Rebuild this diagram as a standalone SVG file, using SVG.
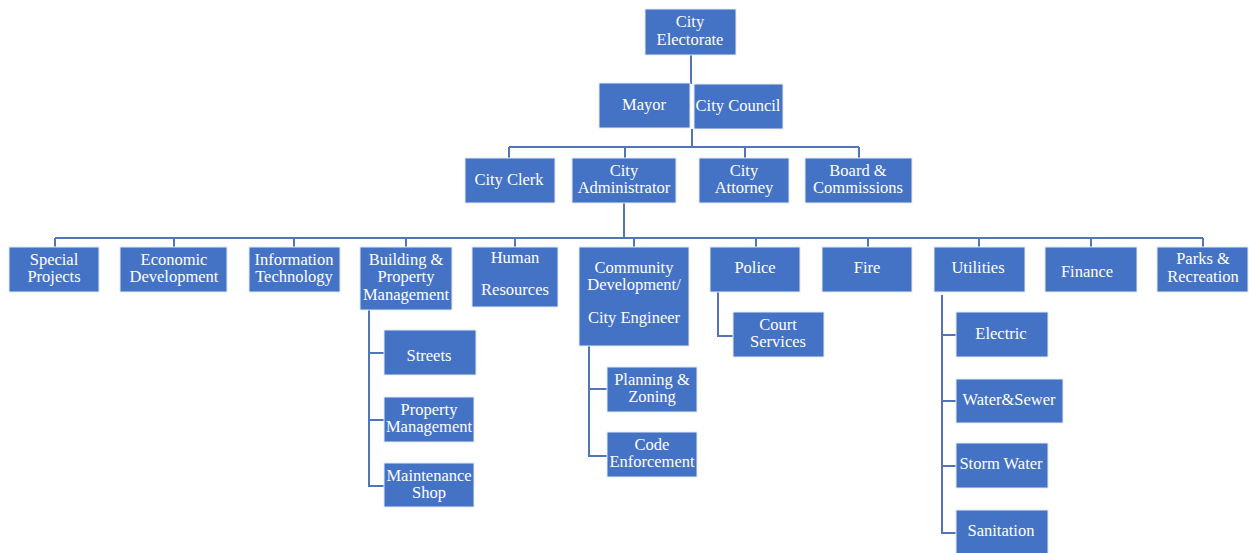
<svg xmlns="http://www.w3.org/2000/svg" width="1249" height="553" viewBox="0 0 1249 553">
<style>
.b{fill:#4472C4;stroke:#e3e9f5;stroke-width:1}
.t{font-family:'Liberation Serif',serif;font-size:16.5px;fill:#fff;text-anchor:middle}
.c{fill:none;stroke:#5274b8;stroke-width:2}
</style>
<rect width="1249" height="553" fill="#fff"/>
<g id="connectors" class="c">
<path d="M691 55V84"/>
<path d="M692 129V147M509 147H859M509 147V158M625 147V158M745 147V158M859 147V158"/>
<path d="M624 203V238M55 238H1203"/>
<path d="M55 238V247M174 238V247M294 238V247M406 238V247M515 238V247M634 238V247M756 238V247M868 238V247M979 238V247M1091 238V247M1203 238V247"/>
<path d="M369 310V486H384M369 353H384M369 420H384"/>
<path d="M589 346V456H607M589 389H607"/>
<path d="M718 292V336H733"/>
<path d="M942 295V533H956M942 335H956M942 401H956M942 466H956"/>
</g>
<g id="n-electorate"><rect class="b" x="645" y="9" width="91" height="46"/><text class="t" x="690" y="27">City</text><text class="t" x="690" y="45">Electorate</text></g>
<g id="n-mayor"><rect class="b" x="599" y="83" width="91" height="45"/><text class="t" x="644" y="110">Mayor</text></g>
<g id="n-council"><rect class="b" x="694" y="84" width="89" height="45"/><text class="t" x="738" y="111">City Council</text></g>
<g id="n-clerk"><rect class="b" x="465" y="158" width="90" height="45"/><text class="t" x="509" y="185">City Clerk</text></g>
<g id="n-admin"><rect class="b" x="572" y="158" width="104" height="45"/><text class="t" x="624" y="176">City</text><text class="t" x="624" y="193">Administrator</text></g>
<g id="n-attorney"><rect class="b" x="699" y="158" width="90" height="45"/><text class="t" x="744" y="176">City</text><text class="t" x="744" y="193">Attorney</text></g>
<g id="n-board"><rect class="b" x="805" y="158" width="107" height="45"/><text class="t" x="858" y="176">Board &amp;</text><text class="t" x="858" y="193">Commissions</text></g>
<g id="n-special"><rect class="b" x="9" y="247" width="90" height="45"/><text class="t" x="54" y="265">Special</text><text class="t" x="54" y="282">Projects</text></g>
<g id="n-econ"><rect class="b" x="120" y="247" width="107" height="45"/><text class="t" x="174" y="265">Economic</text><text class="t" x="174" y="282">Development</text></g>
<g id="n-it"><rect class="b" x="249" y="247" width="91" height="45"/><text class="t" x="294" y="265">Information</text><text class="t" x="294" y="282">Technology</text></g>
<g id="n-building"><rect class="b" x="360" y="247" width="92" height="63"/><text class="t" x="406" y="265">Building &amp;</text><text class="t" x="406" y="282">Property</text><text class="t" x="406" y="300">Management</text></g>
<g id="n-hr"><rect class="b" x="472" y="247" width="86" height="60"/><text class="t" x="515" y="263">Human</text><text class="t" x="515" y="295">Resources</text></g>
<g id="n-community"><rect class="b" x="579" y="247" width="110" height="99"/><text class="t" x="634" y="273">Community</text><text class="t" x="634" y="290">Development/</text><text class="t" x="634" y="323">City Engineer</text></g>
<g id="n-police"><rect class="b" x="710" y="247" width="90" height="45"/><text class="t" x="755" y="273">Police</text></g>
<g id="n-fire"><rect class="b" x="822" y="247" width="90" height="45"/><text class="t" x="867" y="273">Fire</text></g>
<g id="n-utilities"><rect class="b" x="934" y="247" width="91" height="45"/><text class="t" x="978" y="273">Utilities</text></g>
<g id="n-finance"><rect class="b" x="1045" y="247" width="92" height="45"/><text class="t" x="1087" y="277">Finance</text></g>
<g id="n-parks"><rect class="b" x="1157" y="247" width="91" height="45"/><text class="t" x="1203" y="264">Parks &amp;</text><text class="t" x="1203" y="282">Recreation</text></g>
<g id="n-streets"><rect class="b" x="384" y="330" width="92" height="45"/><text class="t" x="429" y="361">Streets</text></g>
<g id="n-propmgmt"><rect class="b" x="384" y="397" width="90" height="45"/><text class="t" x="429" y="415">Property</text><text class="t" x="429" y="432">Management</text></g>
<g id="n-maint"><rect class="b" x="384" y="463" width="90" height="44"/><text class="t" x="429" y="481">Maintenance</text><text class="t" x="429" y="498">Shop</text></g>
<g id="n-planning"><rect class="b" x="607" y="367" width="90" height="45"/><text class="t" x="652" y="385">Planning &amp;</text><text class="t" x="652" y="402">Zoning</text></g>
<g id="n-code"><rect class="b" x="607" y="432" width="90" height="45"/><text class="t" x="652" y="450">Code</text><text class="t" x="652" y="467">Enforcement</text></g>
<g id="n-court"><rect class="b" x="733" y="312" width="91" height="45"/><text class="t" x="778" y="330">Court</text><text class="t" x="778" y="347">Services</text></g>
<g id="n-electric"><rect class="b" x="956" y="312" width="92" height="45"/><text class="t" x="1001" y="339">Electric</text></g>
<g id="n-water"><rect class="b" x="956" y="379" width="107" height="44"/><text class="t" x="1009" y="405">Water&amp;Sewer</text></g>
<g id="n-storm"><rect class="b" x="956" y="443" width="92" height="45"/><text class="t" x="1001" y="469">Storm Water</text></g>
<g id="n-sanitation"><rect class="b" x="956" y="510" width="92" height="50"/><text class="t" x="1001" y="536">Sanitation</text></g>
</svg>
